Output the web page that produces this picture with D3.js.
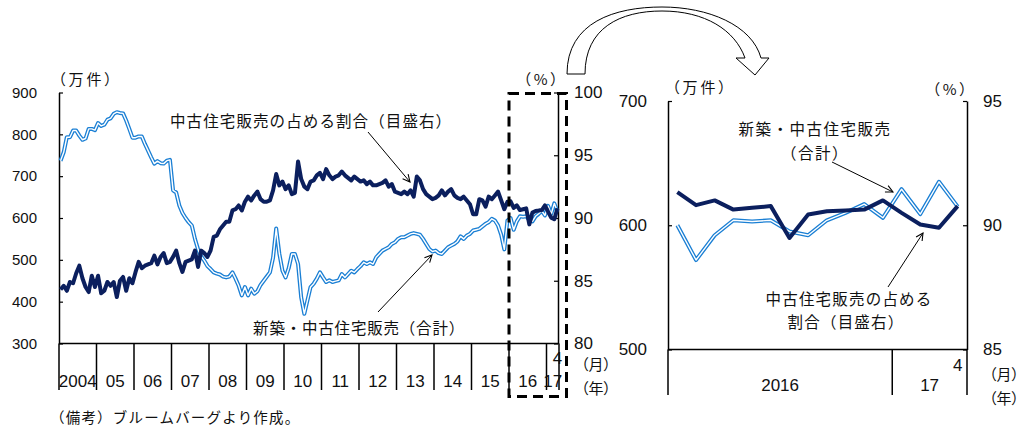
<!DOCTYPE html>
<html><head><meta charset="utf-8">
<script src="https://cdn.jsdelivr.net/npm/d3@7"></script>
<style>
html,body{margin:0;padding:0;background:#fff;}
svg{display:block;}
.jp{font-family:"Noto Sans CJK JP","Noto Sans",sans-serif;fill:#111;}
.num{font-family:"Liberation Sans Narrow","Arial Narrow","Liberation Sans",sans-serif;fill:#111;}
.palt{font-feature-settings:"palt";}
</style>
</head><body>
<svg id="c" width="1034" height="428"></svg>
<script>
// ---------- data ----------
const yearLabels = ["2004","05","06","07","08","09","10","11","12","13","14","15","16","17"];
const monthsPerYear = [12,12,12,12,12,12,12,12,12,12,12,12,12,4];
const lastMonthLabel = "4";
// new + existing home sales total (10k units), monthly 2004/1 - 2017/4
const salesTotal = [
 737,757,793,793,809,809,797,787,790,813,813,810,
 827,820,823,835,838,849,853,851,850,833,813,792,
 792,795,795,777,761,745,730,736,731,730,737,739,
 666,661,630,612,600,590,582,550,525,508,498,485,
 478,470,467,465,460,458,460,470,455,438,415,435,
 415,431,419,425,440,450,460,470,505,575,515,474,
 458,480,514,514,490,410,371,403,435,443,455,470,
 458,447,451,447,449,451,466,458,466,474,470,478,
 485,494,490,494,490,506,514,522,526,530,538,542,
 550,554,554,558,562,564,562,560,550,538,526,520,
 522,516,514,522,530,534,538,544,556,550,558,562,
 570,572,574,580,586,590,598,594,582,560,525,594,
 600,572,592,604,603,604,595,592,604,610,617,606,
 629,609,635,615
];
// share of existing home sales (%), right scale
const usedShare = [
 84.3,84.6,84.2,84.9,84.8,85.6,86.2,85.2,84.5,84.1,85.4,84.5,
 85.4,84.0,84.2,84.9,84.6,84.9,83.7,85.0,85.3,84.2,85.2,84.8,
 85.7,86.5,86.0,86.2,86.3,86.4,87.0,86.3,86.9,87.2,86.4,86.5,
 86.9,87.4,86.4,85.7,86.5,86.6,86.7,87.4,86.1,87.4,87.2,86.9,
 87.4,88.5,88.6,89.1,89.4,89.7,89.7,90.6,90.7,91.0,90.6,91.3,
 91.7,91.4,91.8,92.1,91.5,91.3,91.3,91.4,92.2,93.5,92.6,92.9,
 92.3,92.6,91.9,92.0,94.5,93.1,92.5,92.3,92.9,93.0,93.4,93.6,
 93.1,93.9,93.4,93.1,93.3,93.4,93.7,93.4,93.2,93.0,93.3,93.1,
 92.9,93.0,92.7,92.9,92.6,92.6,92.7,92.8,93.0,92.5,92.7,92.1,
 92.0,91.9,92.1,91.9,92.2,91.7,93.3,93.0,92.3,91.9,91.7,91.5,
 91.6,91.8,92.2,91.8,92.1,92.3,91.8,91.6,91.5,91.7,91.4,91.1,
 90.3,90.3,91.5,91.4,90.9,91.7,91.5,91.8,92.1,91.4,90.7,91.3,
 91.33,90.81,91.0,90.63,90.7,90.77,89.49,90.43,90.56,90.59,90.63,91.0,
 90.5,90.03,89.9,90.77
];
const leftTicks = [300,400,500,600,700,800,900];
const rightTicks = [80,85,90,95,100];
const zoomYears = ["2016","17"];
const zoomMonthsPerYear = [12,4];
const zoomStart = 144;
const zoomLeftTicks = [500,600,700];
const zoomRightTicks = [85,90,95];

const labelShare = "中古住宅販売の占める割合（目盛右）";
const labelTotal = "新築・中古住宅販売（合計）";
const note = "（備考）ブルームバーグより作成。";

// ---------- setup ----------
const svg = d3.select("#c");
const DARK = "#0b1f5e", LIGHT = "#1a7fd4";
svg.append("defs").append("marker")
  .attr("id","ah").attr("viewBox","0 0 10 10").attr("refX",9).attr("refY",5)
  .attr("markerWidth",9).attr("markerHeight",9).attr("markerUnits","userSpaceOnUse")
  .attr("orient","auto")
  .append("path").attr("d","M1,1 L9,5 L1,9").attr("fill","none").attr("stroke","#000").attr("stroke-width",1.2);

function doubleLine(g, data, x, y){
  const line = d3.line().x(d=>x(d.i)).y(d=>y(d.v)).curve(d3.curveLinear);
  g.append("path").datum(data).attr("d",line).attr("fill","none").attr("stroke",LIGHT)
    .attr("stroke-width",4).attr("stroke-linejoin","round");
  g.append("path").datum(data).attr("d",line).attr("fill","none").attr("stroke","#fff")
    .attr("stroke-width",1.4).attr("stroke-linejoin","round");
}
function darkLine(g, data, x, y){
  const line = d3.line().x(d=>x(d.i)).y(d=>y(d.v));
  g.append("path").datum(data).attr("d",line).attr("fill","none").attr("stroke",DARK)
    .attr("stroke-width",4).attr("stroke-linejoin","round");
}
function styleAxis(g){
  g.select(".domain").attr("stroke","#000").attr("stroke-width",1.5);
  g.selectAll(".tick line").attr("stroke","#000").attr("stroke-width",1.2);
}
function unitLabel(g, x, y, txt, anchor){
  g.append("text").attr("class","jp palt").attr("x",x).attr("y",y).attr("text-anchor",anchor||"start")
    .attr("dominant-baseline","central").attr("font-size",15).attr("letter-spacing",3).text(txt);
}

// ---------- left chart ----------
const nMonths = d3.sum(monthsPerYear);
const xL = d3.scaleLinear().domain([0,nMonths]).range([59,559]);
const yL = d3.scaleLinear().domain([300,900]).range([343.5,92.5]);
const yR = d3.scaleLinear().domain([80,100]).range([343.5,92.5]);
const xm = i => xL(i+0.5);

const left = svg.append("g");
const gl = left.append("g").attr("transform","translate(59,0)")
  .call(d3.axisLeft(yL).tickValues(leftTicks).tickSizeInner(-4).tickSizeOuter(0).tickPadding(22));
gl.selectAll("text").attr("font-family","Liberation Sans, Arial, sans-serif").attr("font-size",15).attr("fill","#111");
styleAxis(gl);
const gr = left.append("g").attr("transform","translate(558,0)")
  .call(d3.axisRight(yR).tickValues(rightTicks).tickSizeInner(-4).tickSizeOuter(0).tickPadding(16).tickFormat(d3.format("d")));
gr.selectAll("text").attr("class","num").attr("font-size",17);
styleAxis(gr);

// bottom axis and year separators
left.append("line").attr("x1",xL(0)).attr("x2",xL(nMonths)).attr("y1",343.5).attr("y2",343.5)
  .attr("stroke","#000").attr("stroke-width",1.5);
const bounds = [0]; monthsPerYear.forEach(m=>bounds.push(bounds[bounds.length-1]+m));
left.selectAll("line.sep").data(bounds).join("line").attr("class","sep")
  .attr("x1",d=>xL(d)).attr("x2",d=>xL(d)).attr("y1",343.5).attr("y2",390)
  .attr("stroke","#000").attr("stroke-width",1.5);
left.selectAll("text.yr").data(yearLabels).join("text").attr("class","yr num")
  .attr("x",(d,k)=>(xL(bounds[k])+xL(bounds[k+1]))/2).attr("y",381)
  .attr("text-anchor","middle").attr("dominant-baseline","central").attr("font-size",17).text(d=>d);
left.append("text").attr("class","num").attr("x",xm(nMonths-1)).attr("y",358)
  .attr("text-anchor","middle").attr("dominant-baseline","central").attr("font-size",17).text(lastMonthLabel);

const totalData = salesTotal.map((v,i)=>({i,v}));
const shareData = usedShare.map((v,i)=>({i,v}));
doubleLine(left.append("g"), totalData, xm, yL);
darkLine(left.append("g"), shareData, xm, yR);

// unit labels
unitLabel(left, 58, 78, "（万件）");
unitLabel(left, 561, 78, "（%）", "end");
left.append("text").attr("class","jp palt").attr("x",581).attr("y",363).attr("dominant-baseline","central").attr("font-size",15).text("（月）");
left.append("text").attr("class","jp palt").attr("x",581).attr("y",387).attr("dominant-baseline","central").attr("font-size",15).text("（年）");

// annotations
left.append("text").attr("class","jp").attr("x",170).attr("y",120).attr("dominant-baseline","central")
  .attr("font-size",15.5).attr("letter-spacing",1.1).text(labelShare);
left.append("text").attr("class","jp").attr("x",465).attr("y",327).attr("text-anchor","end").attr("dominant-baseline","central")
  .attr("font-size",15.5).attr("letter-spacing",0.8).text(labelTotal);
left.append("line").attr("x1",368).attr("y1",132).attr("x2",410).attr("y2",182).attr("stroke","#000").attr("stroke-width",1).attr("marker-end","url(#ah)");
left.append("line").attr("x1",378).attr("y1",312).attr("x2",432).attr("y2",255).attr("stroke","#000").attr("stroke-width",1).attr("marker-end","url(#ah)");

// dashed highlight box around zoomed period
left.append("rect").attr("x",xL(zoomStart)).attr("y",93.5).attr("width",566.5-xL(zoomStart)).attr("height",303)
  .attr("fill","none").attr("stroke","#000").attr("stroke-width",3).attr("stroke-dasharray","10,6");

// curved block arrow
svg.append("path")
  .attr("d","M567,74 C567,22 615,7 662,7 C708,7 752,25 761,58 L769,58 L755,75 L736,58 L745,58 C735,30 705,11 662,11 C620,11 585,28 585,74 Z")
  .attr("fill","#fff").attr("stroke","#000").attr("stroke-width",1);

// ---------- right (zoom) chart ----------
const nZ = d3.sum(zoomMonthsPerYear);
const xZ = d3.scaleBand().domain(d3.range(nZ)).range([668,967]);
const xzc = i => xZ(i)+xZ.bandwidth()/2;
const yZL = d3.scaleLinear().domain([500,700]).range([349.5,101]);
const yZR = d3.scaleLinear().domain([85,95]).range([349.5,101]);
const right = svg.append("g");
const zl = right.append("g").attr("transform","translate(668,0)")
  .call(d3.axisLeft(yZL).tickValues(zoomLeftTicks).tickSizeInner(-4).tickSizeOuter(0).tickPadding(21));
zl.selectAll("text").attr("class","num").attr("font-size",17);
styleAxis(zl);
const zr = right.append("g").attr("transform","translate(967,0)")
  .call(d3.axisRight(yZR).tickValues(zoomRightTicks).tickSizeInner(-4).tickSizeOuter(0).tickPadding(16));
zr.selectAll("text").attr("class","num").attr("font-size",17);
styleAxis(zr);
right.append("line").attr("x1",668).attr("x2",967).attr("y1",349.5).attr("y2",349.5).attr("stroke","#000").attr("stroke-width",1.5);
const zb = [0]; zoomMonthsPerYear.forEach(m=>zb.push(zb[zb.length-1]+m));
const zx = k => k>=nZ ? 967 : xZ(k);
right.selectAll("line.sep").data(zb).join("line").attr("class","sep")
  .attr("x1",d=>zx(d)).attr("x2",d=>zx(d)).attr("y1",349.5).attr("y2",395).attr("stroke","#000").attr("stroke-width",1.5);
right.selectAll("text.yr").data(zoomYears).join("text").attr("class","yr num")
  .attr("x",(d,k)=>(zx(zb[k])+zx(zb[k+1]))/2).attr("y",385)
  .attr("text-anchor","middle").attr("dominant-baseline","central").attr("font-size",17).text(d=>d);
right.append("text").attr("class","num").attr("x",xzc(nZ-1)).attr("y",365)
  .attr("text-anchor","middle").attr("dominant-baseline","central").attr("font-size",17).text(lastMonthLabel);

const zTotal = salesTotal.slice(zoomStart).map((v,i)=>({i,v}));
const zShare = usedShare.slice(zoomStart).map((v,i)=>({i,v}));
doubleLine(right.append("g"), zTotal, xzc, yZL);
darkLine(right.append("g"), zShare, xzc, yZR);

unitLabel(right, 672, 86, "（万件）");
unitLabel(right, 970, 88, "（%）", "end");
right.append("text").attr("class","jp palt").attr("x",989).attr("y",373).attr("dominant-baseline","central").attr("font-size",15).text("（月）");
right.append("text").attr("class","jp palt").attr("x",989).attr("y",397).attr("dominant-baseline","central").attr("font-size",15).text("（年）");

// zoom annotations
right.append("text").attr("class","jp").attr("x",815).attr("y",128).attr("text-anchor","middle").attr("dominant-baseline","central")
  .attr("font-size",15.5).attr("letter-spacing",1.5).text(labelTotal.slice(0,9));
right.append("text").attr("class","jp").attr("x",815).attr("y",152).attr("text-anchor","middle").attr("dominant-baseline","central")
  .attr("font-size",15.5).attr("letter-spacing",1.5).text(labelTotal.slice(9));
right.append("text").attr("class","jp").attr("x",849).attr("y",298).attr("text-anchor","middle").attr("dominant-baseline","central")
  .attr("font-size",15.5).attr("letter-spacing",1.2).text(labelShare.slice(0,10));
right.append("text").attr("class","jp").attr("x",846).attr("y",321).attr("text-anchor","middle").attr("dominant-baseline","central")
  .attr("font-size",15.5).attr("letter-spacing",1.2).text(labelShare.slice(10));
right.append("line").attr("x1",832).attr("y1",162).attr("x2",893).attr("y2",192).attr("stroke","#000").attr("stroke-width",1).attr("marker-end","url(#ah)");
right.append("line").attr("x1",888).attr("y1",287).attr("x2",923).attr("y2",233).attr("stroke","#000").attr("stroke-width",1).attr("marker-end","url(#ah)");

// footnote
svg.append("text").attr("class","jp").attr("x",50).attr("y",416).attr("dominant-baseline","central")
  .attr("font-size",14.5).attr("letter-spacing",1.2).text(note);
</script>
</body></html>
